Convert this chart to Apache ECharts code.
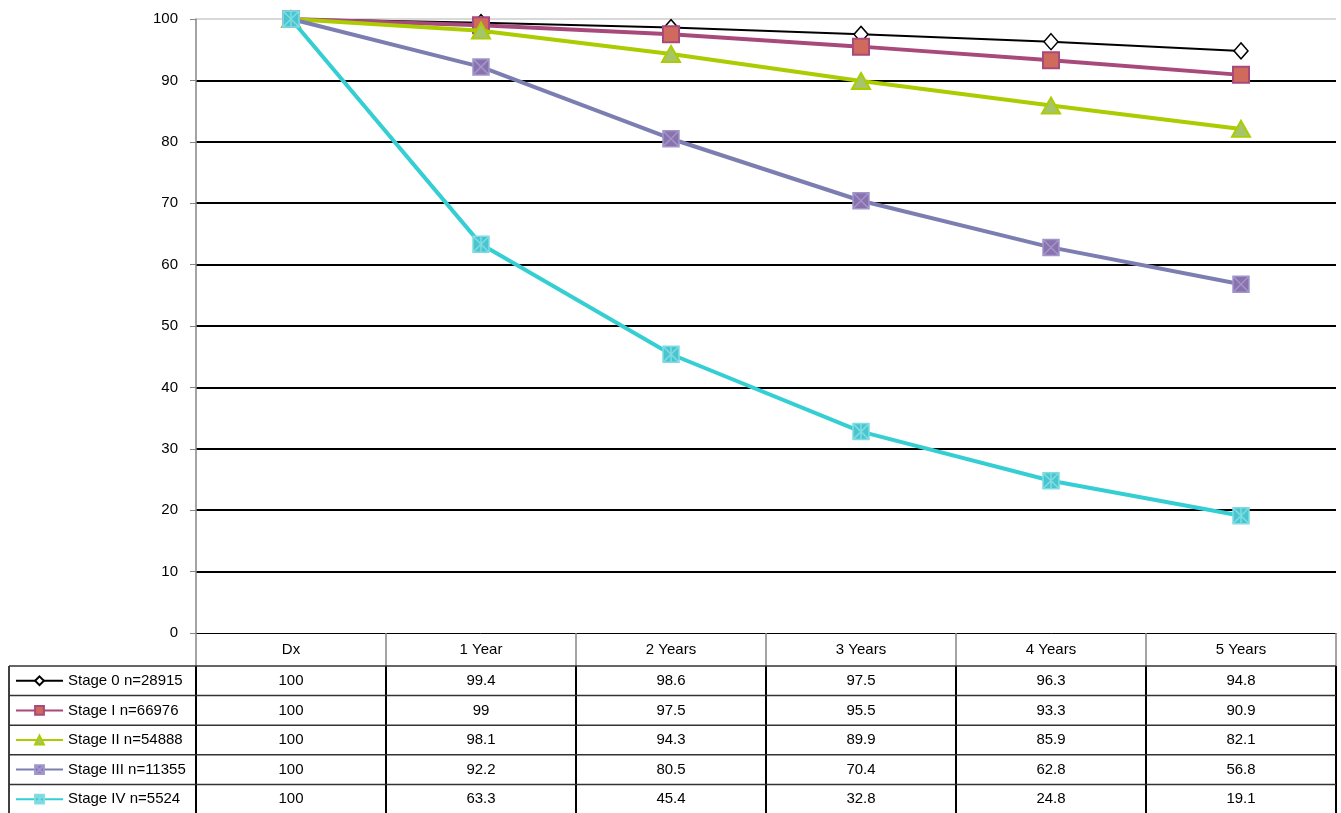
<!DOCTYPE html>
<html><head><meta charset="utf-8">
<script src="https://cdn.jsdelivr.net/npm/echarts@6/dist/echarts.min.js"></script>
<style>html,body{margin:0;padding:0;background:#fff}#c{width:1341px;height:813px}</style>
</head><body><div id="c"></div>
<script>
// ---- data ----
const categories = ['Dx', '1 Year', '2 Years', '3 Years', '4 Years', '5 Years'];
const seriesNames = ['Stage 0 n=28915', 'Stage I n=66976', 'Stage II n=54888', 'Stage III n=11355', 'Stage IV n=5524'];
const stage0 = [100, 99.4, 98.6, 97.5, 96.3, 94.8];
const stage1 = [100, 99, 97.5, 95.5, 93.3, 90.9];
const stage2 = [100, 98.1, 94.3, 89.9, 85.9, 82.1];
const stage3 = [100, 92.2, 80.5, 70.4, 62.8, 56.8];
const stage4 = [100, 63.3, 45.4, 32.8, 24.8, 19.1];
const yMin = 0, yMax = 100, yStep = 10;
const allSeries = [stage0, stage1, stage2, stage3, stage4];

// ---- styles / layout ----
const FONT = '"Liberation Sans", Arial, sans-serif';
const FS = 15;
const styles = [
  {line: '#000000', w: 2, symbol: 'diamond', size: [14, 16], fill: '#ffffff', border: '#000000', bw: 1.5},
  {line: '#A8497B', w: 4, symbol: 'rect', size: 16, fill: '#CF6A5C', border: '#A8497B', bw: 2},
  {line: '#AACC00', w: 4, symbol: 'triangle', size: [18, 16], fill: '#A6C46A', border: '#AACC00', bw: 2},
  {line: '#7C7EB2', w: 4, symbol: 'path://M0,0H10V10H0Z M0,0L10,10 M10,0L0,10', size: 16, fill: '#8B72AD', border: '#A096CC', bw: 1.5},
  {line: '#35CFD3', w: 4, symbol: 'path://M0,0H10V10H0Z M0,0L10,10 M10,0L0,10 M5,0L5,10', size: 16, fill: '#4AC5CF', border: '#7EDDE3', bw: 1.5}
];
const GRID = {left: 196, right: 5, top: 19, bottom: 180};
const HEADER_H = 33, ROW_H = 29.6, TABLE_LEFT = 9;

const nTicks = (yMax - yMin) / yStep + 1;
const splitColors = [];
for (let i = 0; i < nTicks; i++) splitColors.push(i === 0 ? 'rgba(0,0,0,0)' : (i === nTicks - 1 ? '#d9d9d9' : '#000000'));

const chart = echarts.init(document.getElementById('c'), null, {renderer: 'canvas'});
const tableTop = 813 - GRID.bottom;
const firstRowTop = tableTop + HEADER_H;

const option = {
  animation: false,
  backgroundColor: '#ffffff',
  textStyle: {fontFamily: FONT},
  grid: {left: GRID.left, right: GRID.right, top: GRID.top, bottom: GRID.bottom, containLabel: false},
  legend: {
    orient: 'vertical', left: 15, top: firstRowTop + ROW_H / 2 - 8, height: 300, padding: 0,
    itemWidth: 47, itemHeight: 11, itemGap: ROW_H - 16,
    textStyle: {fontSize: FS, color: '#000', fontFamily: FONT, lineHeight: 16},
    data: seriesNames
  },
  xAxis: {
    type: 'category', data: categories, boundaryGap: true,
    axisLine: {show: true, lineStyle: {color: '#000', width: 1}},
    axisTick: {show: false},
    axisLabel: {margin: 9, fontSize: FS, color: '#000', fontFamily: FONT, interval: 0},
    splitLine: {show: false}
  },
  yAxis: {
    type: 'value', min: yMin, max: yMax, interval: yStep,
    axisLine: {show: true, lineStyle: {color: '#868686', width: 1.5}},
    axisTick: {show: true, length: 6, lineStyle: {color: '#868686', width: 1}},
    axisLabel: {margin: 18, fontSize: FS, color: '#000', fontFamily: FONT},
    splitLine: {show: true, lineStyle: {color: splitColors, width: 2}}
  },
  series: seriesNames.map((name, i) => ({
    name: name, type: 'line', data: allSeries[i],
    symbol: styles[i].symbol, symbolSize: styles[i].size,
    showAllSymbol: true,
    lineStyle: {color: styles[i].line, width: styles[i].w},
    itemStyle: {color: styles[i].fill, borderColor: styles[i].border, borderWidth: styles[i].bw},
    emphasis: {disabled: true},
    z: 2 + i
  }))
};
chart.setOption(option);

// ---- data table (drawn from the same arrays, positioned from the category axis) ----
const centers = categories.map(c => chart.convertToPixel({xAxisIndex: 0}, c));
const half = (centers[1] - centers[0]) / 2;
const bounds = [centers[0] - half].concat(centers.map(c => c + half));
const g = [];
const bottomY = 813;
// verticals
bounds.forEach((x) => {
  g.push({type: 'line', shape: {x1: x, y1: tableTop, x2: x, y2: firstRowTop}, style: {stroke: '#868686', lineWidth: 1.5}, z: 10});
  g.push({type: 'line', shape: {x1: x, y1: firstRowTop, x2: x, y2: bottomY}, style: {stroke: '#000', lineWidth: 2}, z: 10});
});
g.push({type: 'line', shape: {x1: TABLE_LEFT, y1: firstRowTop, x2: TABLE_LEFT, y2: bottomY}, style: {stroke: '#000', lineWidth: 1.5}, z: 10});
// horizontals
for (let r = 0; r < seriesNames.length; r++) {
  const y = firstRowTop + r * ROW_H;
  g.push({type: 'line', shape: {x1: TABLE_LEFT, y1: y, x2: bounds[bounds.length - 1], y2: y}, style: {stroke: '#333', lineWidth: 1.5}, z: 10});
}
// values
allSeries.forEach((arr, r) => {
  arr.forEach((v, c) => {
    g.push({type: 'text', x: centers[c], y: firstRowTop + r * ROW_H + ROW_H / 2,
      style: {text: String(v), fontSize: FS, fontFamily: FONT, fill: '#000', align: 'center', verticalAlign: 'middle'}, z: 11});
  });
});
chart.setOption({graphic: g});
</script></body></html>
